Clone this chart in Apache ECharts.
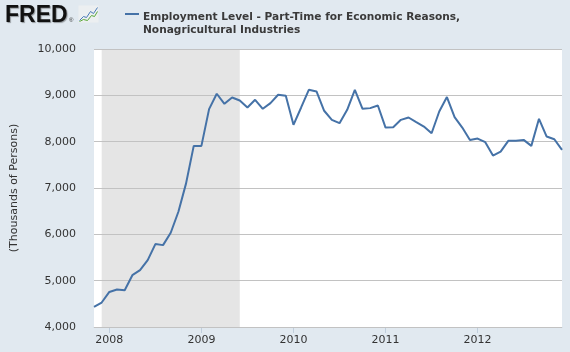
<!DOCTYPE html>
<html>
<head>
<meta charset="utf-8">
<script src="https://cdn.jsdelivr.net/npm/echarts@6/dist/echarts.min.js"></script>
<style>
  html, body { margin: 0; padding: 0; background: #e1e9f0; }
  #chart { width: 570px; height: 352px; }
</style>
</head>
<body>
<div id="chart"></div>
<script>
const months = [
  '2007-11', '2007-12',
  '2008-01', '2008-02', '2008-03', '2008-04', '2008-05', '2008-06', '2008-07', '2008-08', '2008-09', '2008-10', '2008-11', '2008-12',
  '2009-01', '2009-02', '2009-03', '2009-04', '2009-05', '2009-06', '2009-07', '2009-08', '2009-09', '2009-10', '2009-11', '2009-12',
  '2010-01', '2010-02', '2010-03', '2010-04', '2010-05', '2010-06', '2010-07', '2010-08', '2010-09', '2010-10', '2010-11', '2010-12',
  '2011-01', '2011-02', '2011-03', '2011-04', '2011-05', '2011-06', '2011-07', '2011-08', '2011-09', '2011-10', '2011-11', '2011-12',
  '2012-01', '2012-02', '2012-03', '2012-04', '2012-05', '2012-06', '2012-07', '2012-08', '2012-09', '2012-10', '2012-11', '2012-12'
]

// thousands of persons, monthly
const partTime = [
  4433, 4528,
  4757, 4809, 4794, 5118, 5226, 5443, 5789, 5767, 6034, 6488, 7100, 7909,
  7909, 8703, 9034, 8817, 8954, 8889, 8738, 8904, 8709, 8832, 9012, 8990,
  8363, 8738, 9120, 9083, 8667, 8471, 8399, 8688, 9120, 8709, 8724, 8780,
  8304, 8313, 8471, 8522, 8421, 8326, 8182, 8651, 8962, 8529, 8304, 8038,
  8067, 7989, 7700, 7786, 8018, 8018, 8038, 7909, 8493, 8110, 8053, 7822
]

const recession = ['2007-12', '2009-06']
const seriesName = 'Employment Level - Part-Time for Economic Reasons,\nNonagricultural Industries'
const yTicks = { min: 4000, max: 10000, step: 1000 }

const font = 'DejaVu Sans'
const fmtThousands = v => String(v).replace(/\B(?=(\d{3})+(?!\d))/g, ',')
const isJanuary = (i, v) => v.slice(5) === '01'

const chart = echarts.init(document.getElementById('chart'))

chart.setOption({
  backgroundColor: '#e1e9f0',
  animation: false,
  textStyle: { fontFamily: font },
  title: {
    text: seriesName,
    left: 138,
    top: 6,
    textStyle: { fontFamily: font, fontSize: 10.6, fontWeight: 'bold', color: '#3a3a3a', lineHeight: 13 }
  },
  graphic: [
    {
      type: 'text', left: 5, top: 4,
      style: {
        text: 'FRED', font: 'bold 23px "Liberation Sans"', fill: '#111',
        textShadowColor: 'rgba(0,0,0,0.35)', textShadowOffsetX: 1, textShadowOffsetY: 1, textShadowBlur: 1
      }
    },
    { type: 'text', left: 69, top: 17, style: { text: '®', font: '6px sans-serif', fill: '#333' } },
    {
      type: 'group', left: 77, top: 5,
      children: [
        { type: 'rect', shape: { x: 0, y: 0, width: 20, height: 17 }, style: { fill: '#eceff1' } },
        { type: 'polyline', shape: { points: [[1, 15], [5, 11], [8, 12], [12, 6], [15, 8], [19, 2]] }, style: { stroke: '#4a7bb7', lineWidth: 1, fill: null } },
        { type: 'polyline', shape: { points: [[1, 16], [5, 14], [9, 15], [13, 10], [16, 11], [19, 6]] }, style: { stroke: '#5aa83a', lineWidth: 1, fill: null } }
      ]
    },
    { type: 'line', shape: { x1: 125, y1: 14, x2: 139, y2: 14 }, style: { stroke: '#4572a7', lineWidth: 2 } }
  ],
  grid: {
    left: 94, right: 8, top: 49, bottom: 25,
    show: true, backgroundColor: '#ffffff', borderWidth: 0
  },
  xAxis: {
    type: 'category',
    data: months,
    boundaryGap: false,
    axisLine: { lineStyle: { color: '#c8d4e0' } },
    axisTick: { interval: isJanuary, length: 6, lineStyle: { color: '#c0cedc' } },
    axisLabel: {
      interval: isJanuary, margin: 8, color: '#333', fontSize: 11, fontFamily: font,
      formatter: v => v.slice(0, 4)
    },
    splitLine: { show: false }
  },
  yAxis: {
    type: 'value',
    z: 3,   // keep grid lines above the recession shading
    min: yTicks.min, max: yTicks.max, interval: yTicks.step,
    name: '(Thousands of Persons)',
    nameLocation: 'middle',
    nameGap: 74,
    nameTextStyle: { color: '#333', fontSize: 11, fontFamily: font },
    axisLine: { show: false },
    axisTick: { show: false },
    axisLabel: { margin: 18, color: '#333', fontSize: 11, fontFamily: font, formatter: fmtThousands },
    splitLine: { lineStyle: { color: '#c2c2c2', width: 1 } }
  },
  series: [{
    name: seriesName,
    type: 'line',
    z: 4,
    data: partTime,
    showSymbol: false,
    lineStyle: { color: '#4572a7', width: 2 },
    itemStyle: { color: '#4572a7' },
    markArea: {
      silent: true,
      z: 1,
      itemStyle: { color: '#e5e5e5' },
      data: [[{ xAxis: recession[0] }, { xAxis: recession[1] }]]
    }
  }]
})
</script>
</body>
</html>
